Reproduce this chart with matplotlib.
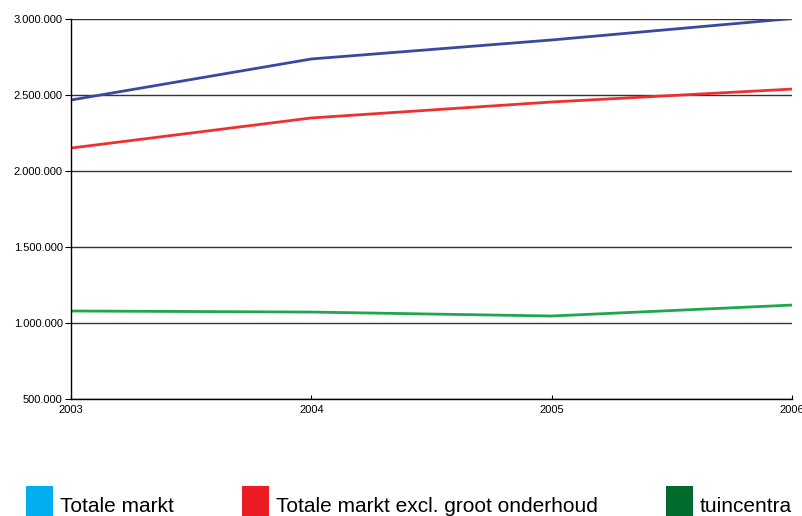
import matplotlib.pyplot as plt
from matplotlib.patches import Patch
from matplotlib.ticker import FuncFormatter

years = [2003, 2004, 2005, 2006]
totale_markt = [2467000, 2737000, 2862000, 3003000]
excl_onderhoud = [2151000, 2349000, 2454000, 2539000]
tuincentra = [1079000, 1072000, 1046000, 1118000]

legend_labels = ["Totale markt", "Totale markt excl. groot onderhoud", "tuincentra"]
legend_colors = ["#00AEEF", "#ED1C24", "#006B2D"]

fig = plt.figure(figsize=(8.03, 5.16), dpi=100)
ax = fig.add_axes([71 / 803, 1 - 399 / 516, (792 - 71) / 803, (399 - 19) / 516])

ax.plot(years, totale_markt, color="#3A49A0", lw=2, solid_capstyle="butt")
ax.plot(years, excl_onderhoud, color="#EE3030", lw=2, solid_capstyle="butt")
ax.plot(years, tuincentra, color="#1FA64E", lw=2, solid_capstyle="butt")

ax.set_xlim(2003, 2006)
ax.set_ylim(500000, 3000000)
ax.set_yticks(range(500000, 3000001, 500000))
ax.set_xticks(years)
ax.yaxis.set_major_formatter(FuncFormatter(lambda v, p: f"{int(v):,}".replace(",", ".")))
ax.grid(axis="y", color="#333333", lw=1)
ax.set_axisbelow(True)

for s in ["top", "right"]:
    ax.spines[s].set_visible(False)
ax.spines["left"].set_linewidth(1)
ax.spines["bottom"].set_linewidth(1)

ax.tick_params(axis="y", direction="out", length=4, labelsize=8, pad=2)
ax.tick_params(axis="x", direction="in", length=3, labelsize=8, pad=4)
for lab in ax.get_xticklabels() + ax.get_yticklabels():
    lab.set_fontfamily("Liberation Sans")

handles = [Patch(facecolor=c, edgecolor="none") for c in legend_colors]
fig.legend(handles, legend_labels, loc="lower left", bbox_to_anchor=(26 / 803, -10 / 516),
           ncol=3, frameon=False, borderpad=0, borderaxespad=0,
           handlelength=1.3, handleheight=2.6,
           handletextpad=0.33, columnspacing=3.27,
           prop={"family": "Liberation Sans", "size": 15})

fig.savefig("out.png", dpi=100)
